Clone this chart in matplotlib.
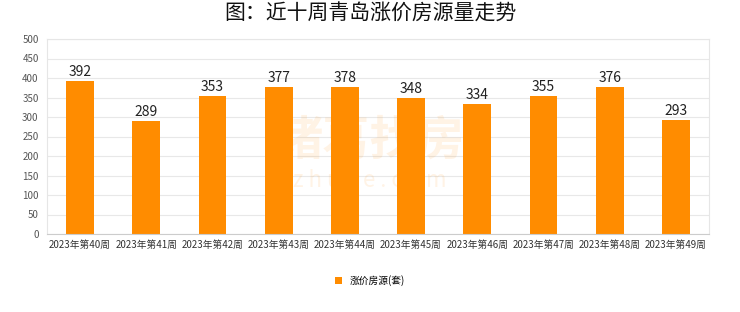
import matplotlib.pyplot as plt
import numpy as np

plt.rcParams['font.family'] = ['Noto Sans CJK SC', 'DejaVu Sans']

weeks = ['2023年第40周', '2023年第41周', '2023年第42周', '2023年第43周', '2023年第44周',
         '2023年第45周', '2023年第46周', '2023年第47周', '2023年第48周', '2023年第49周']
counts = [392, 289, 353, 377, 378, 348, 334, 355, 376, 293]
yticks = [0, 50, 100, 150, 200, 250, 300, 350, 400, 450, 500]

bar_color = '#FF8C00'

fig = plt.figure(figsize=(7.4, 3.12), dpi=100)
ax = fig.add_axes([0.0635, 0.25, 0.8945, 0.625])

x = np.arange(len(weeks))
bars = ax.bar(x, counts, width=0.42, color=bar_color, label='涨价房源(套)', zorder=2)
for xi, v in zip(x, counts):
    ax.text(xi, v + 5, str(v), ha='center', va='bottom', fontsize=10, color='#222222')

ax.set_xlim(-0.5, len(weeks) - 0.5)
ax.set_ylim(0, 500)
ax.set_yticks(yticks)
ax.set_xticks(x)
ax.set_xticklabels(weeks, fontsize=7, color='#333333')
ax.tick_params(axis='y', labelsize=7, colors='#555555', length=0, pad=6)
ax.tick_params(axis='x', length=0, pad=4)
ax.grid(axis='y', color='#e8e8e8', linewidth=0.8, zorder=0)
for side in ['top', 'right', 'left']:
    ax.spines[side].set_color('#e6e6e6')
ax.spines['bottom'].set_color('#cccccc')

# faint watermark
fig.text(0.5, 0.55, '诸葛找房', fontsize=34, color=bar_color, alpha=0.1,
         ha='center', va='center', fontweight='bold')
fig.text(0.5, 0.42, 'z h u g e . c o m', fontsize=16, color=bar_color, alpha=0.1,
         ha='center', va='center')

fig.suptitle('图：近十周青岛涨价房源量走势', fontsize=15, fontweight='medium', y=0.99, color='#111111')

fig.legend(handles=[bars], labels=['涨价房源(套)'], loc='center', bbox_to_anchor=(0.5, 0.1),
           frameon=False, fontsize=7, handlelength=0.8, handleheight=0.8)

fig.savefig('out.png', dpi=100)
